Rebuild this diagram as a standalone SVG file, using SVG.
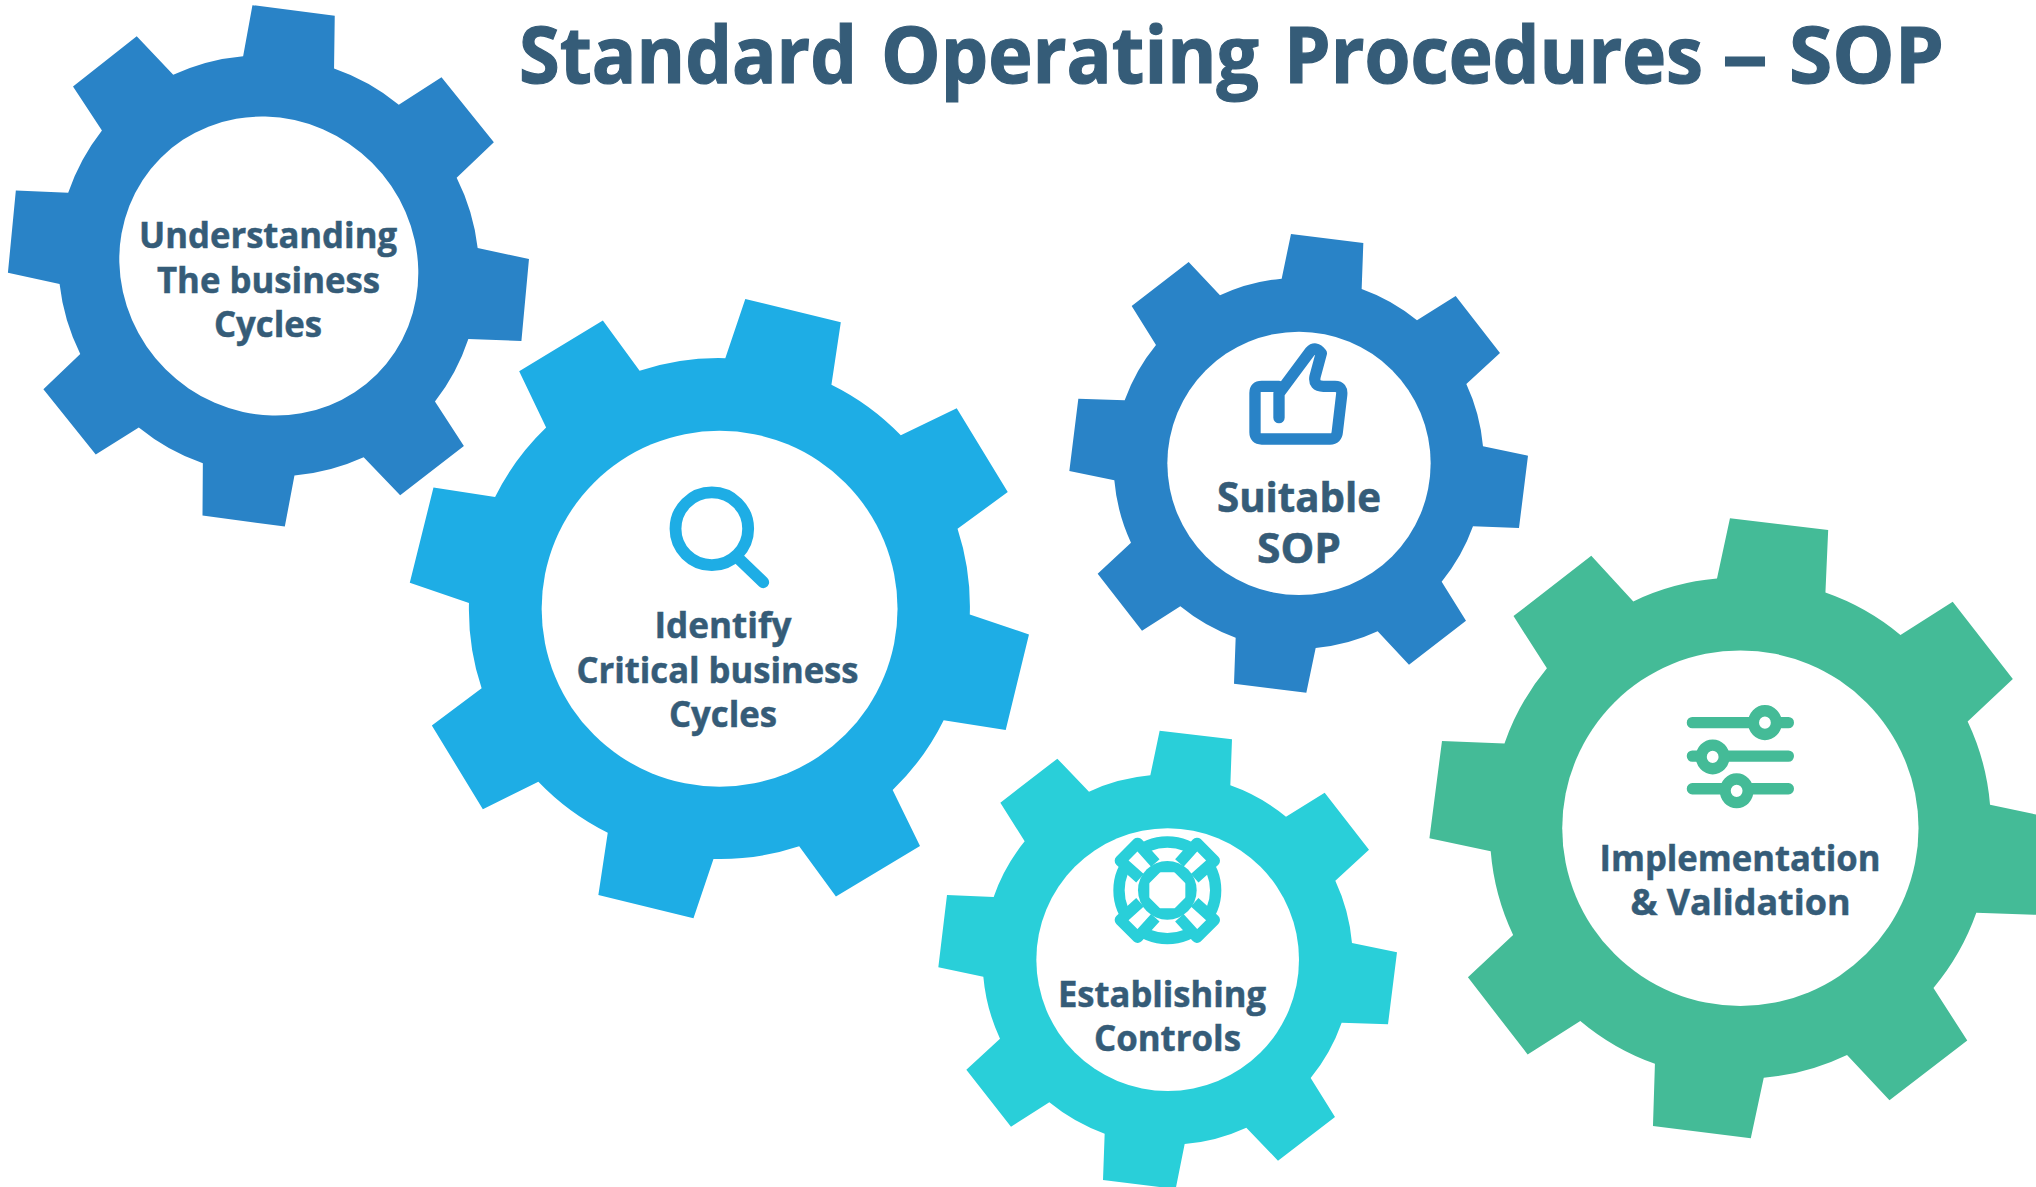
<svg xmlns="http://www.w3.org/2000/svg" width="2036" height="1187" viewBox="0 0 2036 1187">
<style>
text{font-family:"Open Sans","Noto Sans","Liberation Sans",sans-serif;font-weight:700;fill:#355C78;stroke:#355C78;text-anchor:middle}
#title{text-anchor:start;font-size:78px;stroke-width:1.2px}
.lb{font-size:35px;stroke-width:.5px}
.lg{font-size:42px;stroke-width:.6px}
.hole{fill:#fff}
.ic{fill:none;stroke-linecap:round;stroke-linejoin:round}
.g1{fill:#2983C7}.g2{fill:#1EADE5}.g4{fill:#29CFD9}.g5{fill:#44BB97}
</style>
<rect width="2036" height="1187" fill="#fff"/>
<text id="title" y="83"><tspan x="519" textLength="338" lengthAdjust="spacingAndGlyphs">Standard</tspan> <tspan x="881" textLength="378" lengthAdjust="spacingAndGlyphs">Operating</tspan> <tspan x="1284" textLength="419" lengthAdjust="spacingAndGlyphs">Procedures</tspan> <tspan x="1722" textLength="46" lengthAdjust="spacingAndGlyphs">–</tspan> <tspan x="1789" textLength="155" lengthAdjust="spacingAndGlyphs">SOP</tspan></text>

<g id="gear-understanding">
<g transform="scale(.34439)">
<path class="g1" d="M706 163L733 15L972 46L970 199A613 613 0 0 1 1158 304L1282 224L1434 413L1326 516A613 613 0 0 1 1387 720L1536 752L1514 990L1360 984A613 613 0 0 1 1263 1166L1347 1295L1162 1438L1056 1328A613 613 0 0 1 855 1381L827 1529L588 1497L589 1345A613 613 0 0 1 403 1241L278 1320L126 1130L233 1028A613 613 0 0 1 173 825L23 792L46 553L198 560A613 613 0 0 1 296 379L212 251L397 105L503 217A613 613 0 0 1 706 163Z"/>
<ellipse class="hole" cx="780.5" cy="772.5" rx="444" ry="424" transform="rotate(45 780.5 772.5)"/>
</g>
<text class="lb" x="268" y="248" textLength="258" lengthAdjust="spacingAndGlyphs">Understanding</text>
<text class="lb" x="268.5" y="293" textLength="223" lengthAdjust="spacingAndGlyphs">The business</text>
<text class="lb" x="268" y="337" textLength="108" lengthAdjust="spacingAndGlyphs">Cycles</text>
</g>

<g id="gear-identify">
<g transform="translate(400 290) scale(.40816)">
<path class="g2" d="M797 167L846 22L1080 79L1057 232A614 614 0 0 1 1227 356L1364 290L1489 495L1366 585A614 614 0 0 1 1396 795L1541 844L1484 1078L1332 1054A614 614 0 0 1 1207 1225L1274 1362L1068 1486L978 1363A614 614 0 0 1 768 1394L719 1539L486 1482L509 1330A614 614 0 0 1 339 1205L203 1272L78 1067L200 976A614 614 0 0 1 169 767L24 717L82 484L233 507A614 614 0 0 1 358 337L292 199L497 75L587 198A614 614 0 0 1 797 167Z"/>
<circle class="hole" cx="783" cy="781" r="436"/>
<g class="ic" stroke="#1EADE5" stroke-width="29">
<circle cx="764" cy="585" r="89"/>
<path d="M832 660L890 716"/>
</g>
</g>
<text class="lb" x="723" y="638" textLength="137" lengthAdjust="spacingAndGlyphs">Identify</text>
<text class="lb" x="717.5" y="683" textLength="282" lengthAdjust="spacingAndGlyphs">Critical business</text>
<text class="lb" x="723" y="727" textLength="108" lengthAdjust="spacingAndGlyphs">Cycles</text>
</g>

<g id="gear-suitable">
<g transform="translate(1060 225) scale(.33333)">
<path class="g1" d="M665 161L693 27L910 54L905 192A556 556 0 0 1 1071 286L1187 213L1320 384L1219 477A556 556 0 0 1 1269 664L1404 692L1377 909L1239 904A556 556 0 0 1 1145 1070L1218 1187L1047 1319L953 1219A556 556 0 0 1 767 1269L739 1403L522 1376L527 1238A556 556 0 0 1 361 1144L246 1217L113 1046L213 953A556 556 0 0 1 163 766L28 738L55 521L194 526A556 556 0 0 1 288 360L215 243L386 111L480 211A556 556 0 0 1 665 161Z"/>
<circle class="hole" cx="717" cy="715" r="395"/>
<path class="ic" stroke="#2983C7" stroke-width="34" d="M657 578V505L750 380Q767 362 784 385L765 455Q760 484 790 484H825Q848 484 845 510L832 620Q830 642 810 642H605Q585 642 585 622V504Q585 484 605 484H657"/>
</g>
<text class="lg" x="1299" y="512" textLength="164" lengthAdjust="spacingAndGlyphs">Suitable</text>
<text class="lg" x="1299" y="563" textLength="84" lengthAdjust="spacingAndGlyphs">SOP</text>
</g>

<g id="gear-controls">
<g transform="translate(930 725) scale(.33333)">
<path class="g4" d="M661 151L689 17L906 43L901 181A556 556 0 0 1 1068 275L1184 203L1317 374L1216 467A556 556 0 0 1 1266 654L1401 682L1374 898L1235 893A556 556 0 0 1 1142 1059L1215 1176L1044 1307L949 1208A556 556 0 0 1 764 1257L737 1392L519 1365L524 1226A556 556 0 0 1 358 1132L243 1205L109 1034L210 941A556 556 0 0 1 160 755L25 727L51 510L191 516A556 556 0 0 1 284 349L211 233L382 101L477 200A556 556 0 0 1 661 151Z"/>
<circle class="hole" cx="713" cy="704" r="394"/>
<g transform="translate(712 496)" stroke="#29CFD9" stroke-width="34" stroke-linejoin="round" fill="none">
<circle r="145"/>
<g fill="#fff" stroke-linecap="butt">
<path d="M-36-82L-89-141L-141-89L-82-36"/>
<path d="M36-82L89-141L141-89L82-36"/>
<path d="M-36 82L-89 141L-141 89L-82 36"/>
<path d="M36 82L89 141L141 89L82 36"/>
</g>
<circle r="88" fill="#29CFD9" stroke="none"/>
<path fill="#fff" stroke="#fff" stroke-width="8" d="M-20-50H20L50-20V20L20 50H-20L-50 20V-20Z"/>
</g>
</g>
<text class="lb" x="1162" y="1007" textLength="208" lengthAdjust="spacingAndGlyphs">Establishing</text>
<text class="lb" x="1167.5" y="1051" textLength="147" lengthAdjust="spacingAndGlyphs">Controls</text>
</g>

<g id="gear-implementation">
<g transform="translate(1420 510) scale(.39286 .40816)">
<path class="g5" d="M756 168L789 20L1039 49L1032 202A613 590 0 0 1 1223 306L1356 225L1509 414L1394 518A613 590 0 0 1 1451 722L1606 754L1574 992L1416 987A613 590 0 0 1 1307 1171L1393 1300L1195 1446L1087 1335A613 590 0 0 1 875 1391L842 1539L593 1509L598 1357A613 590 0 0 1 408 1252L274 1334L122 1145L237 1041A613 590 0 0 1 180 836L24 804L56 566L215 572A613 590 0 0 1 323 388L238 260L436 112L543 224A613 590 0 0 1 756 168Z"/>
<ellipse class="hole" cx="815.5" cy="779.5" rx="453.5" ry="435.5"/>
<g class="ic" stroke="#44BB97" stroke-width="28">
<path d="M693 521H938M693 603H938M693 683H938"/>
<g fill="#fff">
<circle cx="878" cy="521" r="29"/>
<circle cx="745" cy="605" r="29"/>
<circle cx="806" cy="688" r="29"/>
</g>
</g>
</g>
<text class="lb" x="1740" y="871" textLength="281" lengthAdjust="spacingAndGlyphs">Implementation</text>
<text class="lb" x="1740.5" y="915" textLength="220" lengthAdjust="spacingAndGlyphs">&amp; Validation</text>
</g>
</svg>
